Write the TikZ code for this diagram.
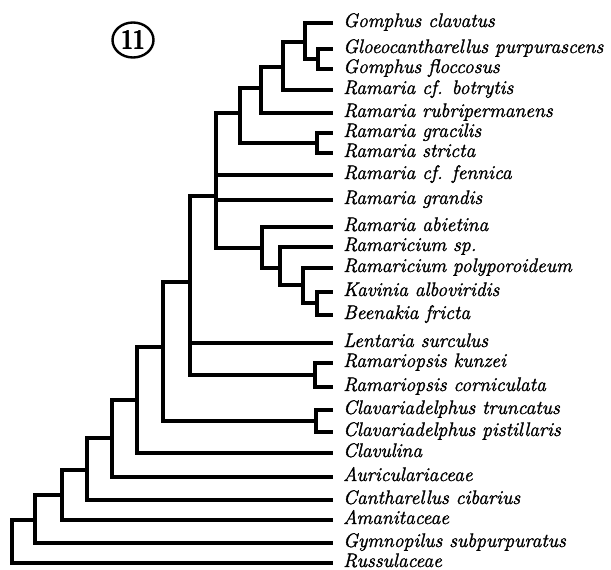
\documentclass[tikz,border=0pt]{standalone}
\usepackage{fontspec}
\usetikzlibrary{shapes.geometric}
% heavier italic for the taxon names
\newfontfamily\taxfont{Latin Modern Roman}[ItalicFeatures={FakeBold=1.5}]
% overprinted bold digits for the figure number
\newcommand\heavydigits[1]{\rlap{#1}\kern0.8pt\rlap{#1}\kern-0.4pt\rlap{\raisebox{0.4pt}{#1}}\kern0.8pt{#1}}
\begin{document}
\begin{tikzpicture}[x=1pt,y=-1pt,
  branch/.style={line width=3.2pt, line cap=rect, line join=miter},
  taxon/.style={anchor=west, inner xsep=0pt, inner ysep=0pt,
    text height=10pt, text depth=2pt,
    font=\taxfont\fontsize{19.6}{19.6}\selectfont\itshape},
  badge/.style={draw, line width=2.4pt, ellipse, minimum width=41pt, minimum height=35pt,
    inner sep=0pt, font=\fontsize{29}{29}\selectfont\bfseries},
]
\useasboundingbox (0,0) rectangle (611,570);

% figure number
\node[badge] (num) at (133,40) {\scalebox{0.72}[1]{\heavydigits{11}}};

% taxa
\node[taxon] (t1)  at (343,23)  {Gomphus clavatus};
\node[taxon] (t2)  at (343,49)  {Gloeocantharellus purpurascens};
\node[taxon] (t3)  at (343,69)  {Gomphus floccosus};
\node[taxon] (t4)  at (343,90)  {Ramaria cf. botrytis};
\node[taxon] (t5)  at (343,113) {Ramaria rubripermanens};
\node[taxon] (t6)  at (343,133) {Ramaria gracilis};
\node[taxon] (t7)  at (343,153) {Ramaria stricta};
\node[taxon] (t8)  at (343,175) {Ramaria cf. fennica};
\node[taxon] (t9)  at (343,200) {Ramaria grandis};
\node[taxon] (t10) at (343,227) {Ramaria abietina};
\node[taxon] (t11) at (343,247) {Ramaricium sp.};
\node[taxon] (t12) at (343,268) {Ramaricium polyporoideum};
\node[taxon] (t13) at (343,292) {Kavinia alboviridis};
\node[taxon] (t14) at (343,315) {Beenakia fricta};
\node[taxon] (t15) at (343,343) {Lentaria surculus};
\node[taxon] (t16) at (343,363) {Ramariopsis kunzei};
\node[taxon] (t17) at (343,387) {Ramariopsis corniculata};
\node[taxon] (t18) at (343,410) {Clavariadelphus truncatus};
\node[taxon] (t19) at (343,432) {Clavariadelphus pistillaris};
\node[taxon] (t20) at (343,453) {Clavulina};
\node[taxon] (t21) at (343,477) {Auriculariaceae};
\node[taxon] (t22) at (343,500) {Cantharellus cibarius};
\node[taxon] (t23) at (343,520) {Amanitaceae};
\node[taxon] (t24) at (343,543) {Gymnopilus subpurpuratus};
\node[taxon] (t25) at (343,563) {Russulaceae};

% internal nodes (x = branch position, y = where the stem joins)
\coordinate (gf)   at (318,59);
\coordinate (gc)   at (305,42);
\coordinate (bo)   at (283,67);
\coordinate (ru)   at (261,88);
\coordinate (gs)   at (317,143);
\coordinate (up)   at (240,113);
\coordinate (rp)   at (216,196);
\coordinate (kb)   at (317,303);
\coordinate (po)   at (303,285);
\coordinate (rc)   at (280,268);
\coordinate (ab)   at (262,248);
\coordinate (rk)   at (315,375);
\coordinate (le)   at (190,282);
\coordinate (cd)   at (316,421);
\coordinate (cv)   at (163,347);
\coordinate (cl)   at (137,400);
\coordinate (au)   at (112,438);
\coordinate (ca)   at (87,470);
\coordinate (am)   at (62,495);
\coordinate (gy)   at (35,520);
\coordinate (root) at (12,541);

% branches
\begin{scope}[branch]
  \draw (gf) |- ([xshift=-12pt]t2.west);
  \draw (gf) |- ([xshift=-12pt]t3.west);
  \draw (gc) |- ([xshift=-12pt]t1.west);
  \draw (gc) |- (gf);
  \draw (bo) |- (gc);
  \draw (bo) |- ([xshift=-12pt]t4.west);
  \draw (ru) |- (bo);
  \draw (ru) |- ([xshift=-12pt]t5.west);
  \draw (gs) |- ([xshift=-12pt]t6.west);
  \draw (gs) |- ([xshift=-12pt]t7.west);
  \draw (up) |- (ru);
  \draw (up) |- (gs);
  \draw (rp) |- (up);
  \draw (rp) |- ([xshift=-12pt]t8.west);
  \draw (rp) |- ([xshift=-12pt]t9.west);
  \draw (rp) |- (ab);
  \draw (ab) |- ([xshift=-12pt]t10.west);
  \draw (ab) |- (rc);
  \draw (rc) |- ([xshift=-12pt]t11.west);
  \draw (rc) |- (po);
  \draw (po) |- ([xshift=-12pt]t12.west);
  \draw (po) |- (kb);
  \draw (kb) |- ([xshift=-12pt]t13.west);
  \draw (kb) |- ([xshift=-12pt]t14.west);
  \draw (rk) |- ([xshift=-12pt]t16.west);
  \draw (rk) |- ([xshift=-12pt]t17.west);
  \draw (le) |- (rp);
  \draw (le) |- ([xshift=-12pt]t15.west);
  \draw (le) |- (rk);
  \draw (cd) |- ([xshift=-12pt]t18.west);
  \draw (cd) |- ([xshift=-12pt]t19.west);
  \draw (cv) |- (le);
  \draw (cv) |- (cd);
  \draw (cl) |- (cv);
  \draw (cl) |- ([xshift=-12pt]t20.west);
  \draw (au) |- (cl);
  \draw (au) |- ([xshift=-12pt]t21.west);
  \draw (ca) |- (au);
  \draw (ca) |- ([xshift=-12pt]t22.west);
  \draw (am) |- (ca);
  \draw (am) |- ([xshift=-12pt]t23.west);
  \draw (gy) |- (am);
  \draw (gy) |- ([xshift=-12pt]t24.west);
  \draw (root) |- (gy);
  \draw (root) |- ([xshift=-12pt]t25.west);
\end{scope}
\end{tikzpicture}
\end{document}
